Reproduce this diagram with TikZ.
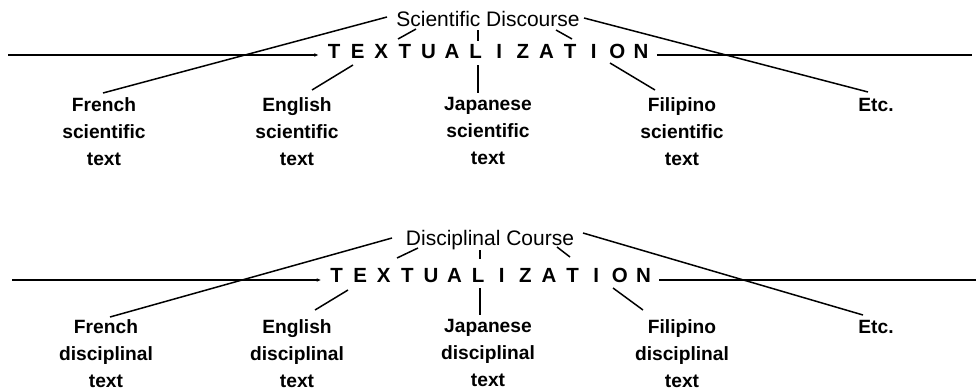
\documentclass[tikz,border=0pt]{standalone}
\usepackage{fontspec}
\setmainfont{Liberation Sans}
\usetikzlibrary{arrows.meta}
\newcommand\tlet[1]{\makebox[23.6pt]{#1}}
\newcommand\textuword{\tlet{T}\tlet{E}\tlet{X}\tlet{T}\tlet{U}\tlet{A}\tlet{L}\tlet{I}\tlet{Z}\tlet{A}\tlet{T}\tlet{I}\tlet{O}\tlet{N}}
\tikzset{
  hd/.style={font=\fontsize{21}{24}\selectfont, inner sep=2pt},
  txw/.style={font=\bfseries\fontsize{20.5}{24}\selectfont, inner ysep=0pt, inner xsep=4pt},
  lab/.style={font=\bfseries\fontsize{19.2}{27}\selectfont, align=center, inner sep=0pt, anchor=north},
  ln/.style={line width=1.5pt},
  tipln/.style={line width=1.5pt, -{Stealth[length=4pt,width=3.5pt]}}
}
\begin{document}
\begin{tikzpicture}[x=1pt,y=-1pt]
\useasboundingbox (0,0) rectangle (976,391);

% ---------- top panel ----------
\node[hd] (sd) at (488,19) {Scientific Discourse};
\node[txw] (tx1) at (487.5,51) {\textuword};
\node[lab] (fr1) at (104,97) {French\\scientific\\text};
\node[lab] (en1) at (297,97) {English\\scientific\\text};
\node[lab] (ja1) at (488,97) {Japanese\\scientific\\text};
\node[lab] (fi1) at (682,97) {Filipino\\scientific\\text};
\node[lab] (et1) at (876,98) {Etc.};

\coordinate (hl1) at (8,55);
\coordinate (hr1) at (972,55);
\coordinate (fa1) at (387,17);  \coordinate (fb1) at (103,93);
\coordinate (ea1) at (416,29);  \coordinate (eb1) at (398,39);
\coordinate (ec1) at (353,65);  \coordinate (ed1) at (312,90);
\coordinate (ja1a) at (478,30); \coordinate (ja1b) at (478,41);
\coordinate (ja1c) at (478,65); \coordinate (ja1d) at (478,93);
\coordinate (pa1) at (556,30);  \coordinate (pb1) at (572,39);
\coordinate (pc1) at (610,63);  \coordinate (pd1) at (655,90);
\coordinate (ta1) at (584,18);  \coordinate (tb1) at (868,92);

\draw[tipln] (hl1) -- (hl1 -| tx1.west);
\draw[ln] (hr1 -| tx1.east) -- (hr1);
\draw[ln] (fa1) -- (fb1);
\draw[ln] (ea1) -- (eb1);
\draw[ln] (ec1) -- (ed1);
\draw[ln] (ja1a) -- (ja1b);
\draw[ln] (ja1c) -- (ja1d);
\draw[ln] (pa1) -- (pb1);
\draw[ln] (pc1) -- (pd1);
\draw[ln] (ta1) -- (tb1);

% ---------- bottom panel ----------
\node[hd] (dc) at (490,240) {Disciplinal Course};
\node[txw] (tx2) at (490,275) {\textuword};
\node[lab] (fr2) at (106,319) {French\\disciplinal\\text};
\node[lab] (en2) at (297,319) {English\\disciplinal\\text};
\node[lab] (ja2) at (488,319) {Japanese\\disciplinal\\text};
\node[lab] (fi2) at (682,319) {Filipino\\disciplinal\\text};
\node[lab] (et2) at (876,320) {Etc.};

\coordinate (hl2) at (12,280);
\coordinate (hr2) at (976,280);
\coordinate (fa2) at (392,238); \coordinate (fb2) at (110,317);
\coordinate (ea2) at (418,248); \coordinate (eb2) at (397,258);
\coordinate (ec2) at (348,290); \coordinate (ed2) at (315,310);
\coordinate (ja2a) at (480,250); \coordinate (ja2b) at (480,259);
\coordinate (ja2c) at (480,288); \coordinate (ja2d) at (480,315);
\coordinate (pa2) at (557,247); \coordinate (pb2) at (570,257);
\coordinate (pc2) at (613,288); \coordinate (pd2) at (643,310);
\coordinate (ta2) at (583,233); \coordinate (tb2) at (863,315);

\draw[tipln] (hl2) -- (hl2 -| tx2.west);
\draw[ln] (hr2 -| tx2.east) -- (hr2);
\draw[ln] (fa2) -- (fb2);
\draw[ln] (ea2) -- (eb2);
\draw[ln] (ec2) -- (ed2);
\draw[ln] (ja2a) -- (ja2b);
\draw[ln] (ja2c) -- (ja2d);
\draw[ln] (pa2) -- (pb2);
\draw[ln] (pc2) -- (pd2);
\draw[ln] (ta2) -- (tb2);
\end{tikzpicture}
\end{document}
